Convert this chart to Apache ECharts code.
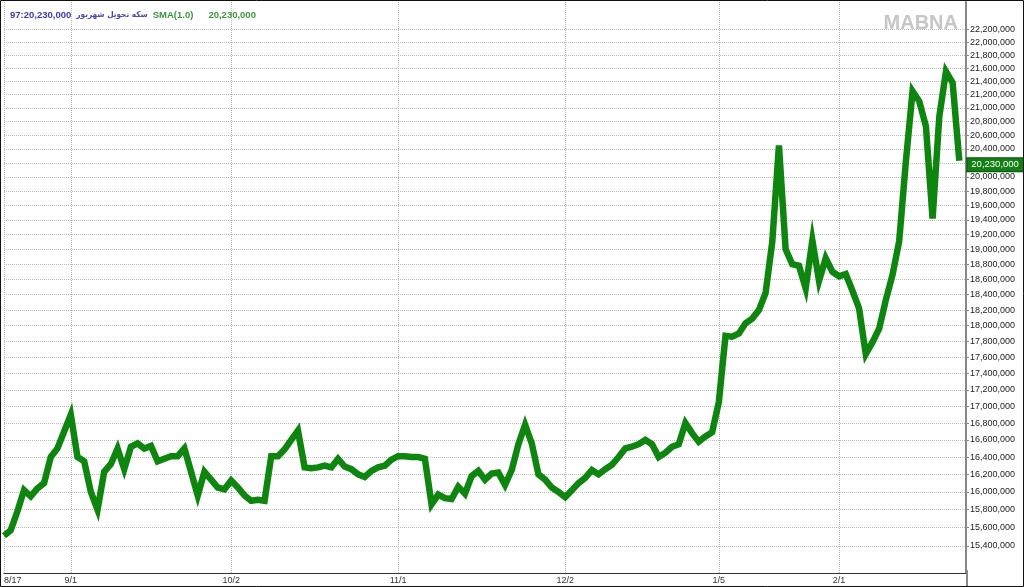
<!DOCTYPE html>
<html>
<head>
<meta charset="utf-8">
<script src="https://cdn.jsdelivr.net/npm/echarts@6/dist/echarts.min.js"></script>
<style>
  html, body { margin: 0; padding: 0; background: #fff; }
  #chart { width: 1024px; height: 587px; }
</style>
</head>
<body>
<div id="chart"></div>
<script>
// Closing prices (rials), one per trading day
const values = [
  15510000, 15570000, 15780000, 16020000, 15950000, 16040000, 16100000, 16400000, 16500000, 16700000,
  16900000, 16400000, 16350000, 16000000, 15800000, 16230000, 16320000, 16500000, 16260000, 16520000,
  16560000, 16500000, 16530000, 16350000, 16380000, 16410000, 16410000, 16500000, 16230000, 15960000,
  16230000, 16140000, 16050000, 16030000, 16130000, 16050000, 15960000, 15900000, 15910000, 15900000,
  16410000, 16410000, 16490000, 16600000, 16710000, 16280000, 16270000, 16280000, 16300000, 16280000,
  16380000, 16290000, 16260000, 16200000, 16170000, 16240000, 16280000, 16300000, 16370000, 16410000,
  16410000, 16400000, 16400000, 16380000, 15860000, 15970000, 15930000, 15920000, 16060000, 15980000,
  16180000, 16240000, 16140000, 16210000, 16220000, 16080000, 16250000, 16550000, 16780000, 16560000,
  16200000, 16140000, 16050000, 16000000, 15940000, 16020000, 16100000, 16160000, 16250000, 16200000,
  16260000, 16310000, 16400000, 16500000, 16520000, 16550000, 16600000, 16550000, 16400000, 16450000,
  16520000, 16550000, 16800000, 16680000, 16580000, 16640000, 16690000, 17050000, 17870000, 17860000,
  17900000, 18030000, 18090000, 18200000, 18420000, 19100000, 20450000, 19000000, 18800000, 18780000,
  18480000, 19120000, 18580000, 18880000, 18700000, 18640000, 18670000, 18450000, 18220000, 17640000,
  17790000, 17960000, 18330000, 18660000, 19110000, 20220000, 21250000, 21100000, 20730000, 19420000,
  20870000, 21550000, 21380000, 20230000
];

// Date tick labels (Persian calendar month/day) and the trading-day index they fall on
const tickLabels = ['8/17', '9/1', '10/2', '11/1', '12/2', '1/5', '2/1'];
const tickIndex  = [0, 10, 34, 59, 84, 107, 125];

// Price axis tick values
const yTicks = [
  15400000, 15600000, 15800000, 16000000, 16200000, 16400000, 16600000, 16800000, 17000000,
  17200000, 17400000, 17600000, 17800000, 18000000, 18200000, 18400000, 18600000, 18800000,
  19000000, 19200000, 19400000, 19600000, 19800000, 20000000, 20200000, 20400000, 20600000,
  20800000, 21000000, 21200000, 21400000, 21600000, 21800000, 22000000, 22200000
];

const lastValue = values[values.length - 1];
const instrumentName = 'سکه تحویل شهریور';

// categories: one per trading day plus one empty slot at the right edge
const categories = [];
for (let i = 0; i <= values.length; i++) {
  const k = tickIndex.indexOf(i);
  categories.push(k >= 0 ? tickLabels[k] : 'd' + i);
}

const fmt = v => String(Math.round(v)).replace(/\B(?=(\d{3})+(?!\d))/g, ',');
const FONT = '"Liberation Sans", Arial, sans-serif';

const chart = echarts.init(document.getElementById('chart'), null, { renderer: 'canvas' });
chart.setOption({
  animation: false,
  backgroundColor: '#fff',
  title: {
    left: 5, top: 1,
    text: '{a|97:' + fmt(lastValue) + '} {b|' + instrumentName + '} {c|SMA(1.0)}   {c|' + fmt(lastValue) + '}',
    textStyle: {
      rich: {
        a: { color: '#3a3aa8', fontSize: 9.5, fontFamily: FONT },
        b: { color: '#4a4ab0', fontSize: 8.2, fontFamily: '"DejaVu Sans Condensed", "DejaVu Sans", sans-serif' },
        c: { color: '#3c963c', fontSize: 9.5, fontFamily: FONT }
      }
    }
  },
  grid: { left: 4, right: 58, top: 2, bottom: 14, containLabel: false },
  xAxis: {
    type: 'category',
    data: categories,
    boundaryGap: false,
    axisLine: { show: true, lineStyle: { color: '#333', width: 1 } },
    axisTick: { show: false },
    axisLabel: {
      interval: (idx) => tickIndex.includes(idx),
      formatter: (v) => v,
      color: '#333', fontSize: 9, fontFamily: FONT, margin: 3,
      alignMinLabel: 'left'
    },
    splitLine: {
      show: true,
      interval: (idx) => tickIndex.includes(idx),
      lineStyle: { type: 'dotted', color: '#b8b8b8', width: 1 }
    }
  },
  yAxis: {
    type: 'log',
    position: 'right',
    min: 15107000,
    max: 22637000,
    axisLine: { show: true, lineStyle: { color: '#888', width: 2 } },
    axisTick: { show: true, customValues: yTicks, length: 3, lineStyle: { color: '#888' } },
    axisLabel: {
      customValues: yTicks,
      formatter: (v) => fmt(v),
      color: '#222', fontSize: 9, fontFamily: FONT, margin: 4
    },
    splitLine: { show: true, lineStyle: { type: 'dotted', color: '#bdbdbd', width: 1 } }
  },
  series: [{
    type: 'line',
    data: values,
    showSymbol: false,
    symbol: 'none',
    lineStyle: { color: '#0e850e', width: 6.5, join: 'miter', miterLimit: 10 },
    itemStyle: { color: '#0e850e' },
    endLabel: {
      show: true,
      formatter: (p) => fmt(p.value),
      color: '#fff',
      backgroundColor: '#127f12',
      borderColor: '#0a4a0a',
      borderWidth: 1,
      padding: [2, 6, 1, 4],
      fontSize: 9.5,
      fontFamily: FONT,
      distance: 8,
      offset: [0, 4]
    },
    z: 3
  }],
  graphic: [
    {
      type: 'text', right: 66, top: 13, z: 0,
      style: { text: 'MABNA', font: 'bold 20px "Liberation Sans", Arial, sans-serif', fill: '#c6c6c6' }
    },
    {
      type: 'line', z: 10,
      shape: { x1: 967, y1: 570, x2: 967, y2: 587 },
      style: { stroke: '#888', lineWidth: 2 }
    },
    {
      type: 'rect', z: 10,
      shape: { x: 0.5, y: 0.5, width: 1023, height: 586 },
      style: { fill: 'none', stroke: '#111', lineWidth: 1 }
    }
  ]
});
</script>
</body>
</html>
